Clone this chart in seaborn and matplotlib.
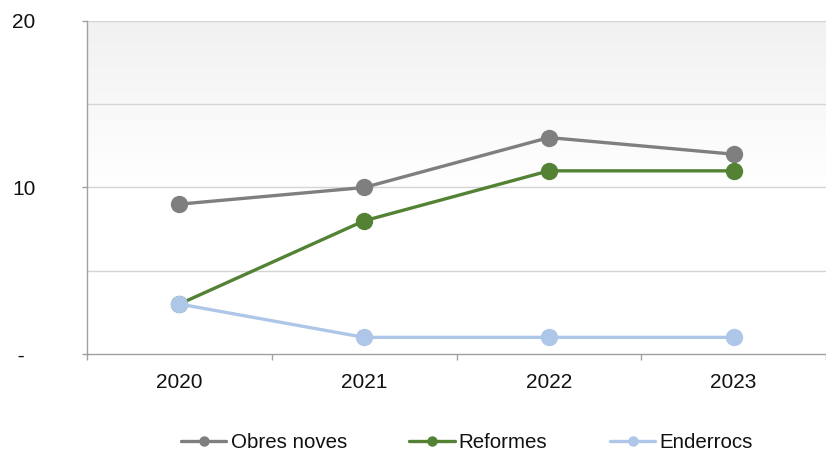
import numpy as np
import pandas as pd
import matplotlib
matplotlib.use("Agg")
import matplotlib.pyplot as plt
import seaborn as sns
from matplotlib.lines import Line2D

years = ["2020", "2021", "2022", "2023"]
obres_noves = [9, 10, 13, 12]
reformes = [3, 8, 11, 11]
enderrocs = [3, 1, 1, 1]
series_names = ["Obres noves", "Reformes", "Enderrocs"]
colors = ["#7f7f7f", "#548235", "#aec7e8"]
ytick_vals = [0, 10, 20]
ytick_labels = [" -", "10", "20"]

sns.set_theme(style="white")
plt.rcParams['font.family'] = ['Liberation Sans', 'DejaVu Sans']

df = pd.DataFrame({
    "year": years * 3,
    "value": obres_noves + reformes + enderrocs,
    "series": [s for s in series_names for _ in years],
})
df["x"] = df["year"].map({y: i for i, y in enumerate(years)})

fig = plt.figure(figsize=(8.26, 4.55), dpi=100)
ax = fig.add_axes([87 / 826, 1 - 354 / 455, 739 / 826, (354 - 21) / 455])

xlim = (-0.5, -0.5 + 739 / 187.5)
# gradient background in upper band
grad = np.linspace(0.945, 1.0, 256).reshape(-1, 1)
ax.imshow(np.dstack([grad, grad, grad]), extent=[xlim[0], xlim[1] + 0.3, 10, 20],
          origin="upper", aspect="auto", zorder=0, interpolation="bilinear")

for yv in [5, 10, 15, 20]:
    ax.axhline(yv, color="#d4d4d4", lw=1.0, zorder=1)

for name, col in zip(series_names, colors):
    sub = df[df["series"] == name]
    sns.lineplot(data=sub, x="x", y="value", ax=ax, color=col, lw=2.4,
                 marker="o", markersize=12.5, markeredgewidth=0, zorder=3,
                 legend=False)

ax.set_xlim(*xlim)
ax.set_ylim(0, 20)
ax.set_xlabel("")
ax.set_ylabel("")

# x ticks: boundaries as major ticks, labels at categories (minor)
ax.set_xticks([-0.5, 0.5, 1.5, 2.5, 3.5])
ax.set_xticklabels([])
ax.set_xticks(range(len(years)), minor=True)
ax.set_xticklabels(years, minor=True, fontsize=15, color="#111111")
ax.tick_params(axis="x", which="major", direction="out", length=4.5, width=1,
               color="#a0a0a0", bottom=True)
ax.tick_params(axis="x", which="minor", length=0, pad=14, bottom=True)

ax.set_yticks(ytick_vals)
ax.set_yticklabels(ytick_labels, fontsize=15, color="#111111", ha="left")
ax.tick_params(axis="y", direction="out", length=3.6, width=1, color="#a0a0a0",
               pad=50.4, left=True)

for side in ["top", "right"]:
    ax.spines[side].set_visible(False)
for side in ["left", "bottom"]:
    ax.spines[side].set_color("#a0a0a0")
    ax.spines[side].set_linewidth(1)
ax.grid(False)

handles = [Line2D([0], [0], color=c, lw=2.4, marker="o", markersize=7.5,
                  markeredgewidth=0) for c in colors]
fig.legend(handles, series_names, loc="center", ncol=3,
           bbox_to_anchor=(467 / 826, 1 - 443 / 455), frameon=False,
           fontsize=14.8, handlelength=2.2, handletextpad=0.2,
           columnspacing=3.05, labelcolor="#111111")

fig.savefig("out.png", dpi=100)
